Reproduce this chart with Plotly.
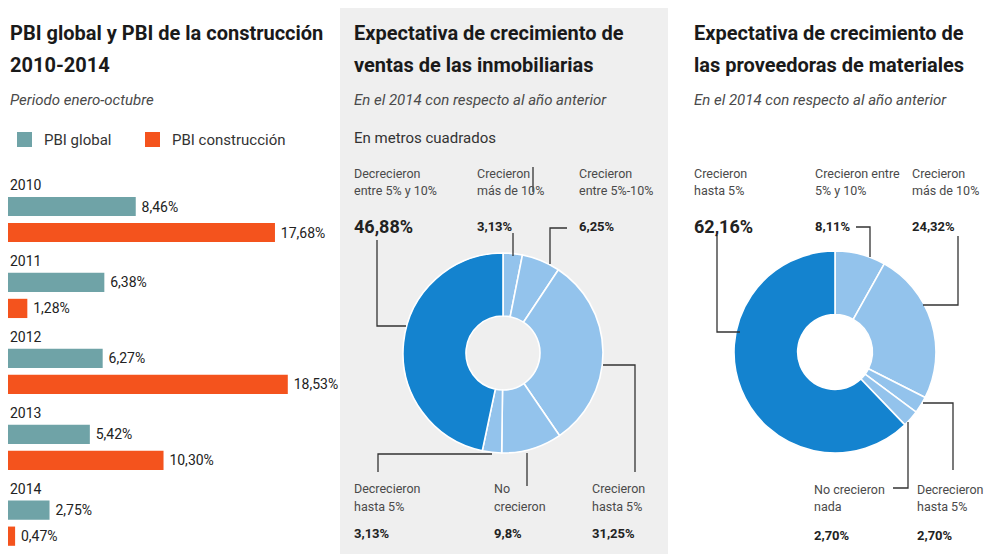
import plotly.graph_objects as go

W, H = 991, 554

# ---- data -------------------------------------------------------------
years = ["2010", "2011", "2012", "2013", "2014"]
pbi_global = [8.46, 6.38, 6.27, 5.42, 2.75]
pbi_construccion = [17.68, 1.28, 18.53, 10.30, 0.47]

inmob_labels = ["Crecieron más de 10%", "Crecieron entre 5%-10%", "Crecieron hasta 5%",
                "No crecieron", "Decrecieron hasta 5%", "Decrecieron entre 5% y 10%"]
inmob_values = [3.13, 6.25, 31.25, 9.8, 3.13, 46.88]

prov_labels = ["Crecieron entre 5% y 10%", "Crecieron más de 10%", "Decrecieron hasta 5%",
               "No crecieron nada", "Crecieron hasta 5%"]
prov_values = [8.11, 24.32, 2.70, 2.70, 62.16]

# ---- styling ----------------------------------------------------------
TEAL = "#6fa3a7"
ORANGE = "#f4531d"
DARK_BLUE = "#1483cf"
LIGHT_BLUE = "#93c3ec"
FONT = "Roboto, sans-serif"
TXT = "#222222"
GREY_TXT = "#4a4a4a"


def fmt(v, dec=2):
    return f"{v:.{dec}f}%".replace(".", ",")


def px(x):
    return x / W


def py(y):
    return 1 - y / H


fig = go.Figure()

# ---- left panel: horizontal bars -------------------------------------
step = 2.92
pos_global = [i * step for i in range(len(years))]
pos_constr = [i * step + 1 for i in range(len(years))]

fig.add_trace(go.Bar(
    orientation="h", x=pbi_global, y=pos_global, width=0.74,
    marker=dict(color=TEAL, line=dict(width=0)),
    text=["\u2009" + fmt(v) for v in pbi_global], textposition="outside",
    textfont=dict(family=FONT, size=14, color=TXT),
    cliponaxis=False, constraintext="none", name="PBI global", showlegend=False,
))
fig.add_trace(go.Bar(
    orientation="h", x=pbi_construccion, y=pos_constr, width=0.74,
    marker=dict(color=ORANGE, line=dict(width=0)),
    text=["\u2009" + fmt(v) for v in pbi_construccion], textposition="outside",
    textfont=dict(family=FONT, size=14, color=TXT),
    cliponaxis=False, constraintext="none", name="PBI construcción", showlegend=False,
))

unit = 26.0
y0 = 206.5
fig.update_layout(
    xaxis=dict(domain=[px(8), px(340)], range=[0, 332 / 15.1], visible=False, fixedrange=True),
    yaxis=dict(domain=[0, py(168)], range=[(H - y0) / unit, -(y0 - 168) / unit],
               visible=False, fixedrange=True),
    barmode="overlay",
)

annotations = []
shapes = []

# year labels above each pair of bars
for i, yr in enumerate(years):
    annotations.append(dict(
        x=px(8), xref="paper", y=pos_global[i] - 0.83, yref="y",
        text=yr, showarrow=False, xanchor="left", yanchor="middle",
        font=dict(family=FONT, size=14, color=TXT),
    ))

# ---- middle panel background -----------------------------------------
shapes.append(dict(type="rect", xref="paper", yref="paper",
                   x0=px(340), x1=px(668), y0=0, y1=py(8),
                   fillcolor="#efefef", line=dict(width=0), layer="below"))

# ---- donuts ----------------------------------------------------------
def donut(values, labels, colors, cx, cy, r):
    return go.Pie(
        values=values, labels=labels, sort=False, direction="clockwise", rotation=0,
        hole=0.37, textinfo="none", hoverinfo="label+percent", showlegend=False,
        marker=dict(colors=colors, line=dict(color="white", width=1.6)),
        domain=dict(x=[px(cx - r), px(cx + r)], y=[py(cy + r), py(cy - r)]),
    )


fig.add_trace(donut(inmob_values, inmob_labels,
                    [LIGHT_BLUE] * 5 + [DARK_BLUE], 503, 353, 100))
fig.add_trace(donut(prov_values, prov_labels,
                    [LIGHT_BLUE] * 4 + [DARK_BLUE], 835, 352, 101))


def text(x, y, s, size=13, color=GREY_TXT, bold=False, italic=False, anchor="left"):
    if bold:
        s = f"<b>{s}</b>"
    if italic:
        s = f"<i>{s}</i>"
    annotations.append(dict(
        x=px(x), y=py(y), xref="paper", yref="paper", text=s, showarrow=False,
        xanchor=anchor, yanchor="middle", font=dict(family=FONT, size=size, color=color),
    ))


def path(points, color="#333333", width=1.3):
    d = "M " + " L ".join(f"{px(x)},{py(y)}" for x, y in points)
    shapes.append(dict(type="path", xref="paper", yref="paper", path=d,
                       line=dict(color=color, width=width)))


# titles and subtitles
TITLE = 20
text(8, 33, "PBI global y PBI de la construcción", size=TITLE, color="#1a1a1a", bold=True)
text(8, 65, "2010-2014", size=TITLE, color="#1a1a1a", bold=True)
text(8, 100, "Periodo enero-octubre", size=15, italic=True)

text(352, 33, "Expectativa de crecimiento de", size=TITLE, color="#1a1a1a", bold=True)
text(352, 65, "ventas de las inmobiliarias", size=TITLE, color="#1a1a1a", bold=True)
text(352, 100, "En el 2014 con respecto al año anterior", size=15, italic=True)
text(352, 138, "En metros cuadrados", size=15, color="#333333")

text(692, 33, "Expectativa de crecimiento de", size=TITLE, color="#1a1a1a", bold=True)
text(692, 65, "las proveedoras de materiales", size=TITLE, color="#1a1a1a", bold=True)
text(692, 100, "En el 2014 con respecto al año anterior", size=15, italic=True)

# legend for the bar chart
shapes.append(dict(type="rect", xref="paper", yref="paper", x0=px(17), x1=px(32),
                   y0=py(147), y1=py(132), fillcolor=TEAL, line=dict(width=0)))
text(42, 139.5, "PBI global", size=15, color="#333333")
shapes.append(dict(type="rect", xref="paper", yref="paper", x0=px(145), x1=px(160),
                   y0=py(147), y1=py(132), fillcolor=ORANGE, line=dict(width=0)))
text(170, 139.5, "PBI construcción", size=15, color="#333333")

# middle donut labels
LBL = 12.5
text(352, 173, "Decrecieron", size=LBL)
text(352, 190, "entre 5% y 10%", size=LBL)
text(352, 226, fmt(inmob_values[5]), size=18, color=TXT, bold=True)

text(475, 173, "Crecieron", size=LBL)
text(475, 190, "más de 10%", size=LBL)
text(475, 226, fmt(inmob_values[0]), size=13, color=TXT, bold=True)

text(577, 173, "Crecieron", size=LBL)
text(577, 190, "entre 5%-10%", size=LBL)
text(577, 226, fmt(inmob_values[1]), size=13, color=TXT, bold=True)

text(352, 488, "Decrecieron", size=LBL)
text(352, 506, "hasta 5%", size=LBL)
text(352, 533, fmt(inmob_values[4]), size=13, color=TXT, bold=True)

text(492, 488, "No", size=LBL)
text(492, 506, "crecieron", size=LBL)
text(492, 533, fmt(inmob_values[3], 1), size=13, color=TXT, bold=True)

text(590, 488, "Crecieron", size=LBL)
text(590, 506, "hasta 5%", size=LBL)
text(590, 533, fmt(inmob_values[2]), size=13, color=TXT, bold=True)

# middle donut leader lines
path([(377, 240), (377, 326), (406, 326)])
path([(513, 233), (513, 256)])
path([(533, 167), (533, 192)])
path([(567, 228), (550, 228), (550, 264)])
path([(603, 365), (635, 365), (635, 472)])
path([(527, 453), (527, 486)])
path([(492, 454), (378, 454), (378, 472)])

# right donut labels
text(692, 173, "Crecieron", size=LBL)
text(692, 190, "hasta 5%", size=LBL)
text(692, 226, fmt(prov_values[4]), size=18, color=TXT, bold=True)

text(813, 173, "Crecieron entre", size=LBL)
text(813, 190, "5% y 10%", size=LBL)
text(813, 226, fmt(prov_values[0]), size=13, color=TXT, bold=True)

text(910, 173, "Crecieron", size=LBL)
text(910, 190, "más de 10%", size=LBL)
text(910, 226, fmt(prov_values[1]), size=13, color=TXT, bold=True)

text(812, 489, "No crecieron", size=LBL)
text(812, 506, "nada", size=LBL)
text(812, 535, fmt(prov_values[3]), size=13, color=TXT, bold=True)

text(915, 489, "Decrecieron", size=LBL)
text(915, 506, "hasta 5%", size=LBL)
text(915, 535, fmt(prov_values[2]), size=13, color=TXT, bold=True)

# right donut leader lines
path([(717, 235), (717, 332), (740, 332)])
path([(856, 227), (870, 227), (870, 257)])
path([(958, 236), (958, 305), (923, 305)])
path([(923, 403), (953, 403), (953, 470)])
path([(908, 422), (908, 488), (893, 488)])

fig.update_layout(
    width=W, height=H,
    margin=dict(l=0, r=0, t=0, b=0),
    paper_bgcolor="white", plot_bgcolor="rgba(0,0,0,0)",
    annotations=annotations, shapes=shapes,
    font=dict(family=FONT),
)

fig.write_html("out.html")
